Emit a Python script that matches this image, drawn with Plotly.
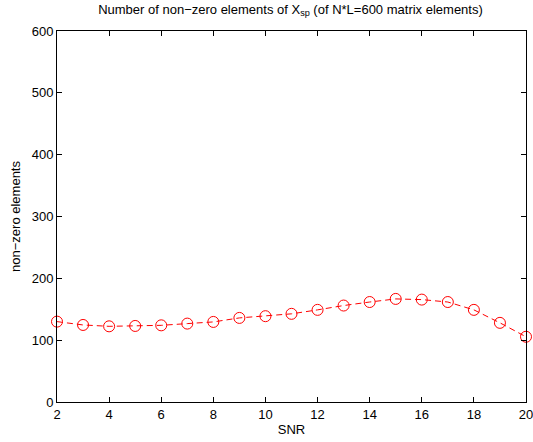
import plotly.graph_objects as go

snr = [2, 3, 4, 5, 6, 7, 8, 9, 10, 11, 12, 13, 14, 15, 16, 17, 18, 19, 20]
nonzero = [130, 124.6, 122.4, 123, 124, 126.8, 129.5, 136, 138.8, 142.6, 149, 156, 161.7, 166.7, 165.6, 161.7, 149, 128, 105.5]
xticks = [2, 4, 6, 8, 10, 12, 14, 16, 18, 20]
yticks = [0, 100, 200, 300, 400, 500, 600]

FONT = "Liberation Sans, Arial, sans-serif"

fig = go.Figure()
fig.add_trace(go.Scatter(
    x=snr, y=nonzero, mode="lines+markers",
    line=dict(color="#ff0000", width=1, dash="6px,4px"),
    marker=dict(symbol="circle-open", size=11, color="#ff0000", line=dict(width=1, color="#ff0000")),
    showlegend=False, cliponaxis=False,
))

axis_common = dict(
    showgrid=False, zeroline=False, showline=True, linecolor="black", linewidth=1,
    mirror="ticks", ticks="inside", ticklen=5, tickcolor="black",
    tickfont=dict(family=FONT, size=13, color="black"),
    automargin=False, ticklabeloverflow="allow",
)
fig.update_xaxes(range=[2, 20], tickmode="array", tickvals=xticks,
                 title=dict(text="SNR", standoff=4, font=dict(family=FONT, size=13, color="black")),
                 **axis_common)
fig.update_yaxes(range=[0, 600], tickmode="array", tickvals=yticks,
                 title=dict(text="non−zero elements", standoff=8, font=dict(family=FONT, size=13, color="black")),
                 **axis_common)

fig.update_layout(
    width=533, height=442,
    margin=dict(l=57, r=7, t=31, b=40),
    paper_bgcolor="white", plot_bgcolor="white",
    title=dict(text="Number of non−zero elements of X<sub>sp</sub> (of N*L=600 matrix elements)",
               x=0.545, xanchor="center", y=0.99, yanchor="top",
               font=dict(family=FONT, size=13, color="black")),
)

fig.write_html("out.html")
